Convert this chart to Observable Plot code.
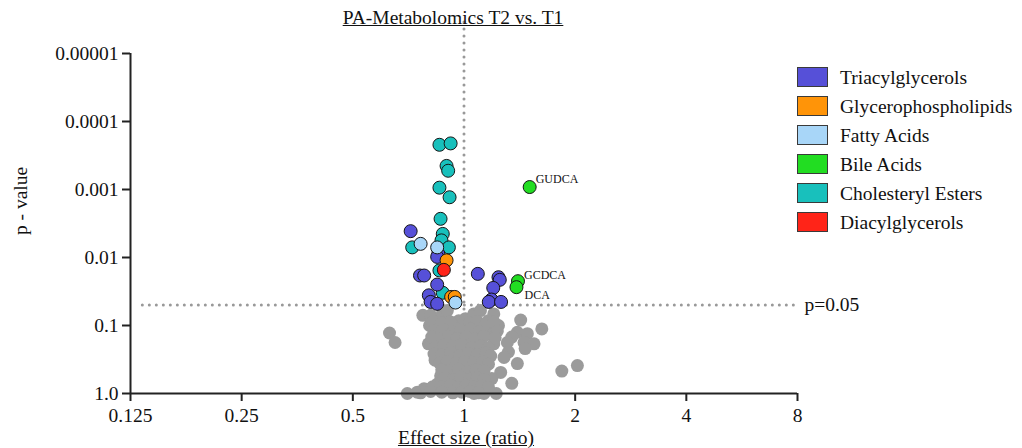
<!DOCTYPE html>
<html><head><meta charset="utf-8">
<script src="https://cdn.jsdelivr.net/npm/d3@7"></script>
<script src="https://cdn.jsdelivr.net/npm/@observablehq/plot@0.6"></script>
<style>
body{margin:0;background:#fff;font-family:"Liberation Serif","DejaVu Serif",serif;}
#wrap{position:relative;width:1022px;height:448px;overflow:hidden;}
.lbl{position:absolute;font-size:19.5px;color:#111;white-space:nowrap;line-height:1;}
.u{text-decoration:underline;}
.leg{position:absolute;left:797px;}
.sw{position:absolute;left:0;width:29px;height:18px;border:1.5px solid #3a3a3a;}
.lt{position:absolute;left:43px;top:0px;font-size:19.5px;color:#111;white-space:nowrap;line-height:21px;}
</style></head><body><div id="wrap"></div>
<script>
// ---- categories and colours ----
const categories = ["Triacylglycerols","Glycerophospholipids","Fatty Acids","Bile Acids","Cholesteryl Esters","Diacylglycerols"];
const catColors = ["#5650d8","#ff9408","#a8d6f8","#22dd22","#18c0bc","#ff2418"];

// ---- axis ticks ----
const xTicks = [0.125,0.25,0.5,1,2,4,8];
const xTickLabels = ["0.125","0.25","0.5","1","2","4","8"];
const yTicks = [1,0.1,0.01,0.001,0.0001,0.00001];
const yTickLabels = ["1.0","0.1","0.01","0.001","0.0001","0.00001"];
const pThreshold = 0.05;

// ---- significant metabolites (effect size ratio, p-value) ----
const teRatio = [0.858,0.92,0.897,0.906,0.858,0.914,0.864,0.876,0.869,0.724,0.91,0.858,0.876];
const teP     = [2.2e-4,2.1e-4,4.5e-4,5.3e-4,9.4e-4,1.3e-3,2.7e-3,4.5e-3,5.6e-3,7.1e-3,7.1e-3,0.0155,0.033];
const tagRatio = [0.717,0.852,0.846,0.76,0.78,0.846,0.803,0.812,0.846,1.09,1.24,1.25,1.2,1.187,1.167,1.26];
const tagP     = [4.1e-3,8.8e-3,9.8e-3,0.0184,0.0184,0.025,0.036,0.045,0.048,0.0174,0.0195,0.0213,0.028,0.0415,0.045,0.045];
const gplRatio = [0.897,0.923,0.944];
const gplP     = [0.011,0.038,0.038];
const faRatio = [0.763,0.846,0.948];
const faP     = [6.3e-3,7.1e-3,0.046];
const dagRatio = [0.882];
const dagP     = [0.0152];
const baNames = ["GUDCA","GCDCA","DCA"];
const baRatio = [1.506,1.4,1.387];
const baP     = [9.2e-4,0.0223,0.0273];

// ---- non-significant metabolites: log2(ratio), -log10(p) ----
const nsLog2Ratio = [
 -0.67,-0.62,-0.51,-0.39,-0.36,-0.42,-0.37,-0.31,-0.32,-0.29,-0.26,-0.21,-0.24,-0.33,-0.28,
 0.51,0.70,0.48,0.57,0.43,0.39,0.54,0.63,0.55,0.40,0.36,0.48,0.33,0.25,0.43,0.88,1.02,0.29,0.18,0.09,
 -0.30,-0.196,-0.15,-0.047,-0.076,0.013,0.088,0.148,0.268,0.22,0.31,0.223,0.268,0.13,
 -0.28,-0.2,-0.12,0.05,0.12,0.2,0.27,
 -0.27,-0.19,-0.1,-0.03,0.06,0.14,0.3,
 -0.29,-0.22,-0.14,-0.06,0.02,0.1,0.18,0.28,
 -0.26,-0.18,-0.1,-0.02,0.07,0.15,0.22,
 -0.27,-0.2,-0.12,-0.04,0.04,0.12,0.2,0.24,
 -0.22,-0.15,-0.07,0.01,0.09,0.17,0.22,
 -0.2,-0.13,-0.05,0.03,0.11,0.18,
 -0.17,-0.1,-0.03,0.05,0.12,0.18,
 -0.2,-0.12,-0.05,0.02,0.09,0.16,0.22,
 -0.3,-0.2,-0.1,-0.02,0.05,0.13
];
const nsNegLog10P = [
 0.89,0.75,0.0,0.01,0.07,0.02,1.15,1.0,0.73,0.76,0.49,0.26,0.14,0.06,0.10,
 1.08,0.95,0.90,0.88,0.83,0.75,0.75,0.73,0.66,0.61,0.53,0.44,0.31,0.22,0.15,0.33,0.41,0.0,0.0,0.0,
 1.15,1.17,1.22,1.07,0.97,1.10,1.17,1.22,1.17,1.07,1.0,0.93,0.73,1.0,
 1.06,1.04,1.05,1.04,1.06,1.03,1.05,
 0.92,0.94,0.90,0.93,0.95,0.91,0.92,
 0.83,0.80,0.84,0.81,0.83,0.80,0.84,0.82,
 0.68,0.71,0.69,0.72,0.68,0.70,0.67,
 0.58,0.57,0.60,0.56,0.59,0.57,0.60,0.55,
 0.45,0.47,0.44,0.47,0.45,0.46,0.43,
 0.35,0.33,0.36,0.32,0.35,0.33,
 0.23,0.20,0.24,0.21,0.23,0.20,
 0.10,0.12,0.09,0.12,0.10,0.11,0.09,
 0.03,0.02,0.01,0.02,0.03,0.01
];

// ---- build tables ----
const gray = nsLog2Ratio.map((l,i)=>({ratio: 2**l, p: 10**(-nsNegLog10P[i])}));
const sig = [];
function add(cat, rs, ps){ rs.forEach((r,i)=>sig.push({category:cat, ratio:r, p:ps[i]})); }
add("Cholesteryl Esters", teRatio, teP);
add("Triacylglycerols", tagRatio, tagP);
add("Glycerophospholipids", gplRatio, gplP);
add("Fatty Acids", faRatio, faP);
add("Diacylglycerols", dagRatio, dagP);
add("Bile Acids", baRatio, baP);
const bile = baNames.map((n,i)=>({name:n, ratio:baRatio[i], p:baP[i]}));

const fmtX = d => xTickLabels[xTicks.indexOf(d)];
const fmtY = d => yTickLabels[yTicks.findIndex(t => Math.abs(Math.log10(t)-Math.log10(d))<1e-6)];

const chart = Plot.plot({
  width: 1022, height: 448,
  marginLeft: 130, marginRight: 225, marginTop: 53, marginBottom: 55,
  style: {fontFamily: '"Liberation Serif","DejaVu Serif",serif', fontSize: "19.5px", color: "#111", background: "#fff", overflow: "visible"},
  x: {type: "log", base: 2, domain: [0.125, 8]},
  y: {type: "log", domain: [1, 0.00001]},
  color: {domain: categories, range: catColors},
  marks: [
    Plot.ruleY([pThreshold], {x1: 0.135, x2: 8, stroke: "#999", strokeWidth: 3, strokeDasharray: "0,7", strokeLinecap: "round"}),
    Plot.ruleX([1], {y1: 1, y2: 3.5e-6, stroke: "#999", strokeWidth: 3, strokeDasharray: "0,7", strokeLinecap: "round", clip: false}),
    Plot.dot(gray, {x: "ratio", y: "p", r: 6.5, fill: "#9b9b9b", stroke: "none"}),
    Plot.dot(sig, {x: "ratio", y: "p", r: 6.5, fill: "category", stroke: "#151515", strokeWidth: 1}),
    Plot.text(bile.filter(d=>d.name==="GUDCA"), {x:"ratio", y:"p", text:"name", dx: 6, dy: -8, textAnchor:"start", fontSize: 12, fill:"#111"}),
    Plot.text(bile.filter(d=>d.name==="GCDCA"), {x:"ratio", y:"p", text:"name", dx: 6, dy: -6, textAnchor:"start", fontSize: 12, fill:"#111"}),
    Plot.text(bile.filter(d=>d.name==="DCA"), {x:"ratio", y:"p", text:"name", dx: 8, dy: 8, textAnchor:"start", fontSize: 12, fill:"#111"}),
    Plot.text([pThreshold], {x: 8, y: d=>d, text: ()=>"p=0.05", dx: 7, textAnchor: "start", fontSize: 19.5, fill: "#111"}),
    Plot.axisX({ticks: xTicks, tickFormat: fmtX, tickSize: 8, tickPadding: 7, strokeWidth: 2, label: null, stroke: "#222"}),
    Plot.axisY({ticks: yTicks, tickFormat: fmtY, tickSize: 8, tickPadding: 4, strokeWidth: 2, label: null, stroke: "#222"}),
    Plot.ruleX([0.125], {y1: 1, y2: 0.00001, stroke: "#222", strokeWidth: 2}),
    Plot.ruleY([1], {x1: 0.125, x2: 8, stroke: "#222", strokeWidth: 2})
  ]
});
const wrap = document.getElementById("wrap");
chart.style.position = "absolute"; chart.style.left = "0px"; chart.style.top = "0px";
wrap.appendChild(chart);

function label(text, cls, css){ const d=document.createElement("div"); d.className="lbl "+cls; d.textContent=text; Object.assign(d.style, css); wrap.appendChild(d); return d; }
label("PA-Metabolomics T2 vs. T1", "u", {left:"453px", top:"8px", transform:"translateX(-50%)"});
label("Effect size (ratio)", "u", {left:"466px", top:"428px", transform:"translateX(-50%)"});
label("p - value", "", {left:"21px", top:"201px", transform:"translate(-50%,-50%) rotate(-90deg)"});

const leg = document.createElement("div"); leg.className="leg"; leg.style.top="67px"; wrap.appendChild(leg);
categories.forEach((c,i)=>{
  const row=document.createElement("div"); row.style.position="absolute"; row.style.left="0"; row.style.top=(i*29)+"px";
  const sw=document.createElement("div"); sw.className="sw"; sw.style.background=catColors[i];
  const t=document.createElement("div"); t.className="lt"; t.textContent=c;
  row.appendChild(sw); row.appendChild(t); leg.appendChild(row);
});
</script>
</body></html>
